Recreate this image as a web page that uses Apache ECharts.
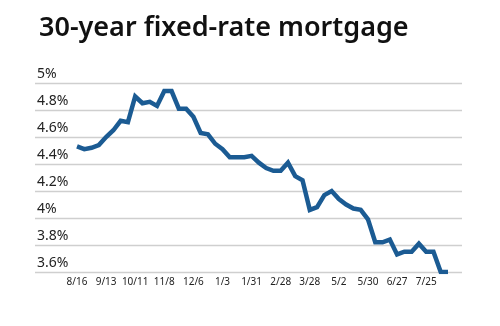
<!DOCTYPE html>
<html>
<head>
<meta charset="utf-8">
<script src="https://cdn.jsdelivr.net/npm/echarts@6/dist/echarts.min.js"></script>
<style>
  html, body { margin: 0; padding: 0; background: #fff; }
  #chart { width: 500px; height: 326px; }
</style>
</head>
<body>
<div id="chart"></div>
<script>
// Weekly 30-year fixed mortgage rate, %
const weeks = [
  '8/16', '8/23', '8/30', '9/6', '9/13', '9/20', '9/27', '10/4', '10/11', '10/18',
  '10/25', '11/1', '11/8', '11/15', '11/21', '11/29', '12/6', '12/13', '12/20', '12/27',
  '1/3', '1/10', '1/17', '1/24', '1/31', '2/7', '2/14', '2/21', '2/28', '3/7',
  '3/14', '3/21', '3/28', '4/4', '4/18', '4/25', '5/2', '5/9', '5/16', '5/23',
  '5/30', '6/6', '6/13', '6/20', '6/27', '7/3', '7/11', '7/18', '7/25', '8/1',
  '8/8', '8/15'
];
const rates = [
  4.53, 4.51, 4.52, 4.54, 4.60, 4.65, 4.72, 4.71, 4.90, 4.85,
  4.86, 4.83, 4.94, 4.94, 4.81, 4.81, 4.75, 4.63, 4.62, 4.55,
  4.51, 4.45, 4.45, 4.45, 4.46, 4.41, 4.37, 4.35, 4.35, 4.41,
  4.31, 4.28, 4.06, 4.08, 4.17, 4.20, 4.14, 4.10, 4.07, 4.06,
  3.99, 3.82, 3.82, 3.84, 3.73, 3.75, 3.75, 3.81, 3.75, 3.75,
  3.60, 3.60
];
const yTicks = [3.6, 3.8, 4.0, 4.2, 4.4, 4.6, 4.8, 5.0];
const titleText = '30-year fixed-rate mortgage';

const yMin = yTicks[0];
const yMax = yTicks[yTicks.length - 1];
const FONT = '"Noto Sans", Lato, sans-serif';

const chart = echarts.init(document.getElementById('chart'), null, { renderer: 'canvas' });
chart.setOption({
  animation: false,
  title: {
    text: titleText,
    left: 34, top: 10,
    textStyle: { fontFamily: FONT, fontSize: 27, fontWeight: 600, color: '#111' }
  },
  grid: [
    // wide grid carrying the horizontal rules and percent labels
    { left: 35, right: 38, top: 83, bottom: 54, containLabel: false },
    // inner grid carrying the dates and the line
    { left: 77, right: 52, top: 83, bottom: 54, containLabel: false }
  ],
  xAxis: [
    { gridIndex: 0, type: 'value', show: false, min: 0, max: 1 },
    {
      gridIndex: 1, type: 'category', data: weeks, boundaryGap: false,
      axisLine: { show: false }, axisTick: { show: false },
      axisLabel: {
        interval: 3, margin: 5,
        fontFamily: FONT, fontSize: 10, color: '#222'
      }
    }
  ],
  yAxis: [
    {
      gridIndex: 0, type: 'value', min: yMin, max: yMax, interval: 0.2,
      axisLine: { show: false }, axisTick: { show: false },
      splitLine: { lineStyle: { color: '#cfcfcf', width: 1.3 } },
      axisLabel: {
        inside: true, verticalAlign: 'bottom', margin: 2,
        padding: [0, 0, 2, 0],
        fontFamily: FONT, fontSize: 14, color: '#222',
        formatter: v => (Math.round(v * 10) / 10) + '%'
      }
    },
    {
      gridIndex: 1, type: 'value', min: yMin, max: yMax, interval: 0.2,
      show: false, splitLine: { show: false }
    }
  ],
  series: [{
    type: 'line',
    xAxisIndex: 1, yAxisIndex: 1,
    data: rates,
    symbol: 'none',
    lineStyle: { color: '#1b5b93', width: 4.5, join: 'miter' }
  }]
});
</script>
</body>
</html>
